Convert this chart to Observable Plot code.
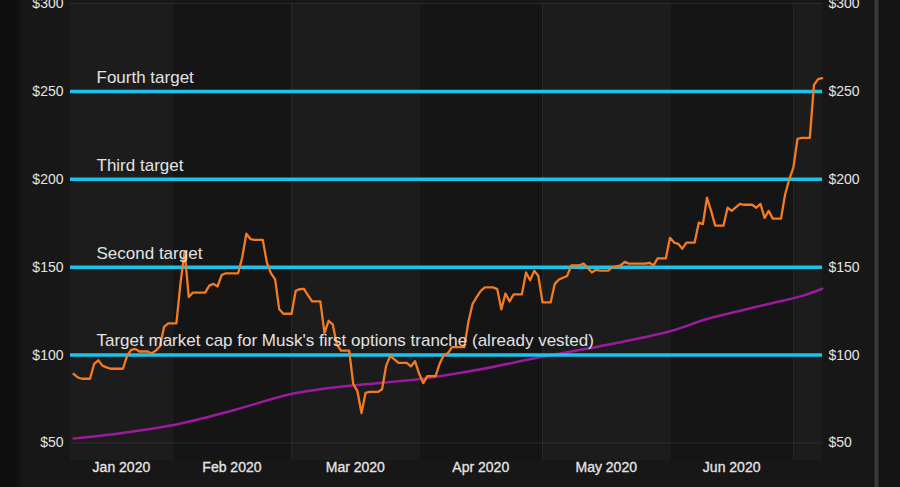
<!DOCTYPE html>
<html>
<head>
<meta charset="utf-8">
<script src="https://cdn.jsdelivr.net/npm/d3@7"></script>
<script src="https://cdn.jsdelivr.net/npm/@observablehq/plot@0.6"></script>
<style>
  html, body { margin: 0; padding: 0; background: #141414; }
  #chart { width: 900px; height: 487px; overflow: hidden; }
</style>
</head>
<body>
<div id="chart"></div>
<script>
// Tesla market cap ($B), one value per calendar day starting 2020-01-08 (weekends/holidays hold the last close)
const seriesStart = "2020-01-08";
const marketCap = [
  89.3, 87.3, 86.5, 86.5, 86.5,                 // Jan 8 - Jan 12
  95, 97, 94, 93, 92.2, 92.2, 92.2,             // Jan 13
  92.2, 99.5, 103, 103.5, 102, 102, 102,        // Jan 20
  101, 102.5, 105, 116, 118, 118, 118,          // Jan 27
  141, 159, 133, 135.5, 135.5, 135.5, 135.5,    // Feb 3
  139.5, 140.5, 139, 145.5, 146.5, 146.5, 146.5,// Feb 10
  146.5, 155.5, 169, 166, 165.5, 165.5, 165.5,  // Feb 17
  152.5, 146.5, 143, 126, 123.5, 123.5, 123.5,  // Feb 24
  136.5, 137.5, 137.7, 134, 130.5, 130.5, 130.5,// Mar 2
  112.5, 119.5, 117.5, 106, 102.5, 102.5, 102.5,// Mar 9
  83.5, 79.5, 67, 78.5, 79, 79, 79,             // Mar 16
  80.5, 94, 99.5, 97.5, 95.5, 95.5, 95.5,       // Mar 23
  93.5, 96.5, 89.5, 84, 88, 88, 88,             // Mar 30
  95, 100, 101, 104.5, 104.5, 104.5, 104.5,     // Apr 6
  119, 129, 133, 136.5, 138.5, 138.5, 138.5,    // Apr 13
  137.5, 126, 135, 130.5, 134.5, 134.5, 134.5,  // Apr 20
  147, 142.5, 148, 145, 130, 130, 130,          // Apr 27
  140.5, 143, 144, 145, 151, 151, 151,          // May 4
  152, 149.5, 147, 148.5, 148, 148, 148,        // May 11
  150, 150.5, 151, 153, 152, 152, 152,          // May 18
  152, 152, 152.5, 151, 155, 155, 155,          // May 25
  166.7, 164, 163.3, 160.5, 164, 164, 164,      // Jun 1
  175.3, 174.5, 189.5, 182, 173.6, 173.6, 173.6,// Jun 8
  183.8, 182, 184, 186, 185.5, 185.5, 185.5,    // Jun 15
  183.8, 186, 178, 182, 177.6, 177.6, 177.6,    // Jun 22
  191.5, 200, 206.6, 223, 223.5, 223.5, 223.5,  // Jun 29
  253.5, 257, 257.5                             // Jul 6 - Jul 8
];

// Trailing average market cap ($B)
const avgDates = ["2020-01-08", "2020-01-20", "2020-02-01", "2020-02-15", "2020-03-01", "2020-03-15",
                  "2020-04-01", "2020-04-15", "2020-05-01", "2020-05-15", "2020-06-01", "2020-06-10",
                  "2020-06-24", "2020-07-03", "2020-07-08"];
const avgValues = [52.5, 55.7, 60, 68, 77.8, 82.5, 86.3, 91.5, 99, 105, 113.5, 120.5, 128.5, 133.5, 137.7];

const targets = [100, 150, 200, 250];
const targetLabels = [
  "Target market cap for Musk's first options tranche (already vested)",
  "Second target",
  "Third target",
  "Fourth target"
];
const yTicks = [50, 100, 150, 200, 250, 300];
const monthStarts = ["2020-01-01", "2020-02-01", "2020-03-01", "2020-04-01", "2020-05-01", "2020-06-01", "2020-07-01", "2020-08-01"];
const monthLabels = ["Jan 2020", "Feb 2020", "Mar 2020", "Apr 2020", "May 2020", "Jun 2020", ""];
const xDomain = ["2020-01-07T06:00:00Z", "2020-07-08T02:00:00Z"];

// ---- build tables ----
const start = new Date(seriesStart);
const capData = marketCap.map((v, i) => ({ date: d3.utcDay.offset(start, i), value: v }));
const avgData = avgDates.map((d, i) => ({ date: new Date(d), value: avgValues[i] }));
const dom = xDomain.map(d => new Date(d));
const bands = monthLabels.map((label, i) => {
  const a = new Date(monthStarts[i]), b = new Date(monthStarts[i + 1]);
  const lo = Math.max(+a, +dom[0]), hi = Math.min(+b, +dom[1]);
  return { x1: a, x2: b, mid: new Date((lo + hi) / 2), label, shade: i % 2 === 0 ? "#1c1c1c" : "#151515" };
});
const innerBoundaries = monthStarts.map(d => new Date(d)).filter(d => d > dom[0] && d < dom[1]);
const targetData = targets.map((t, i) => ({ value: t, label: targetLabels[i] }));

const chart = Plot.plot({
  width: 900,
  height: 487,
  marginLeft: 70,
  marginRight: 78,
  marginTop: 3,
  marginBottom: 27,
  x: { type: "utc", domain: dom, axis: null },
  y: { domain: [40, 300], axis: null },
  style: {
    background: "linear-gradient(to right, #0f0f0f 0px, #0f0f0f 16px, #171717 22px, #171717 874px, #3a3a3a 875px, #3a3a3a 878px, #131313 879px)",
    color: "#e0e0e0",
    fontFamily: "'Liberation Sans', Arial, sans-serif",
    fontSize: "14px"
  },
  marks: [
    Plot.rect(bands, { x1: "x1", x2: "x2", fill: "shade", clip: true }),
    Plot.ruleX(innerBoundaries, { stroke: "#ffffff", strokeOpacity: 0.06 }),
    Plot.gridY(yTicks, { stroke: "#ffffff", strokeOpacity: 0.08 }),
    Plot.axisY(yTicks, { anchor: "left", tickSize: 0, tickPadding: 7, tickFormat: d => "$" + d, label: null, fill: "#e4e4e4", stroke: "#e4e4e4", strokeWidth: 0.3 }),
    Plot.axisY(yTicks, { anchor: "right", tickSize: 0, tickPadding: 6, tickFormat: d => "$" + d, label: null, fill: "#e4e4e4", stroke: "#e4e4e4", strokeWidth: 0.3 }),
    Plot.text(bands.filter(b => b.label), { x: "mid", text: "label", frameAnchor: "bottom", dy: 11, fill: "#e4e4e4", stroke: "#e4e4e4", strokeWidth: 0.3, fontSize: 14 }),
    Plot.line(avgData, { x: "date", y: "value", stroke: "#9a1b9e", strokeWidth: 2.5, curve: "catmull-rom" }),
    Plot.ruleY(targetData, { y: "value", stroke: "#1cc3ea", strokeWidth: 3.5 }),
    Plot.line(capData, { x: "date", y: "value", stroke: "#f47b20", strokeWidth: 2.3 }),
    Plot.text(targetData, { y: "value", text: "label", frameAnchor: "left", textAnchor: "start", dx: 26, dy: -14, fill: "#e2e2e2", fontSize: 17 })
  ]
});
document.getElementById("chart").appendChild(chart);
</script>
</body>
</html>
